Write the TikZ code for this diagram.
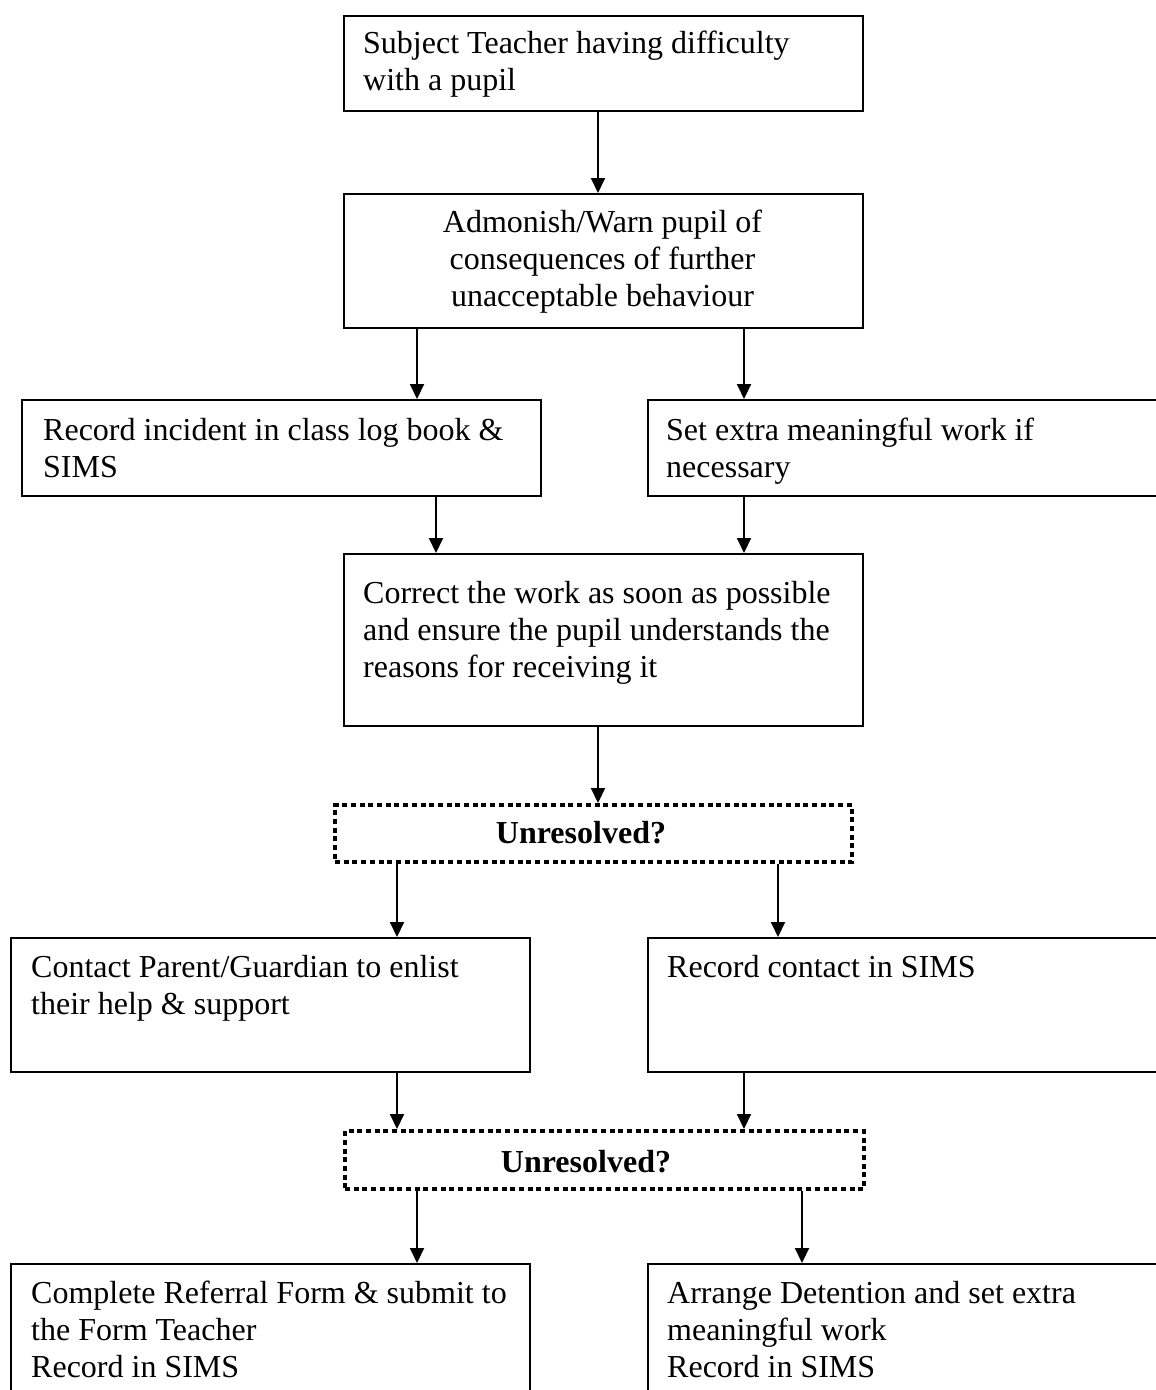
\documentclass[tikz,border=0pt]{standalone}
\usepackage{fontspec}
\setmainfont{Liberation Serif}
\usetikzlibrary{arrows.meta}
\newcommand\mytxtfont{\fontsize{32}{37}\selectfont}
\newcommand\myspacing{\spaceskip 8pt plus 1pt\relax\xspaceskip 8pt plus 1pt\relax}
\begin{document}
\begin{tikzpicture}[x=1pt,y=-1pt,
  box/.style={draw, line width=1.8pt, inner sep=0pt, anchor=north west, minimum width=519pt},
  dotbox/.style={draw, line width=4pt, dash pattern=on 5pt off 3.7pt, inner sep=0pt, anchor=north west},
  txt/.style={inner sep=0pt, anchor=base west, text width=510pt, font=\mytxtfont, execute at begin node=\myspacing},
  ctxt/.style={inner sep=0pt, anchor=base, text width=519pt, font=\mytxtfont, execute at begin node=\myspacing},
  btxt/.style={inner sep=0pt, anchor=base, font=\mytxtfont\bfseries},
  arr/.style={line width=2pt, -{Triangle[length=15pt,width=14pt]}}
]
\useasboundingbox (0,0) rectangle (1156,1390);
\clip (0,0) rectangle (1156,1390);

% boxes
\node[box, minimum height=95pt] (b1) at (343,15) {};
\node[box, minimum height=134pt] (b2) at (343,193) {};
\node[box, minimum height=96pt] (b3) at (21,399) {};
\node[box, minimum height=96pt] (b4) at (647,399) {};
\node[box, minimum height=172pt] (b5) at (343,553) {};
\node[dotbox, minimum width=517pt, minimum height=57pt] (d1) at (333,803) {};
\node[box, minimum height=134pt] (b6) at (10,937) {};
\node[box, minimum height=134pt] (b7) at (647,937) {};
\node[dotbox, minimum width=519pt, minimum height=58pt] (d2) at (343,1129) {};
\node[box, minimum height=160pt] (b8) at (10,1263) {};
\node[box, minimum height=160pt] (b9) at (647,1263) {};

% texts
\node[txt] (t1) at (363,53) {Subject Teacher having difficulty\\with a pupil};
\node[ctxt] (t2) at (602.5,232) {\centering Admonish/Warn pupil of\\consequences of further\\unacceptable behaviour\par};
\node[txt] (t3) at (43,440) {Record incident in class log book \&\\SIMS};
\node[txt] (t4) at (666,440) {Set extra meaningful work if\\necessary};
\node[txt] (t5) at (363,603) {Correct the work as soon as possible\\and ensure the pupil understands the\\reasons for receiving it};
\node[btxt] (u1) at (581,843) {Unresolved?};
\node[txt] (t6) at (31,977) {Contact Parent/Guardian to enlist\\their help \& support};
\node[txt] (t7) at (667,977) {Record contact in SIMS};
\node[btxt] (u2) at (586,1172) {Unresolved?};
\node[txt] (t8) at (31,1303) {Complete Referral Form \& submit to\\the Form Teacher\\Record in SIMS};
\node[txt] (t9) at (667,1303) {Arrange Detention and set extra\\meaningful work\\Record in SIMS};

% connectors
\draw[arr] (598,0 |- b1.south) -- (598,0 |- b2.north);
\draw[arr] (417,0 |- b2.south) -- (417,0 |- b3.north);
\draw[arr] (744,0 |- b2.south) -- (744,0 |- b4.north);
\draw[arr] (436,0 |- b3.south) -- (436,0 |- b5.north);
\draw[arr] (744,0 |- b4.south) -- (744,0 |- b5.north);
\draw[arr] (598,0 |- b5.south) -- (598,0 |- d1.north);
\draw[arr] (397,0 |- d1.south) -- (397,0 |- b6.north);
\draw[arr] (778,0 |- d1.south) -- (778,0 |- b7.north);
\draw[arr] (397,0 |- b6.south) -- (397,0 |- d2.north);
\draw[arr] (744,0 |- b7.south) -- (744,0 |- d2.north);
\draw[arr] (417,0 |- d2.south) -- (417,0 |- b8.north);
\draw[arr] (802,0 |- d2.south) -- (802,0 |- b9.north);
\end{tikzpicture}
\end{document}
